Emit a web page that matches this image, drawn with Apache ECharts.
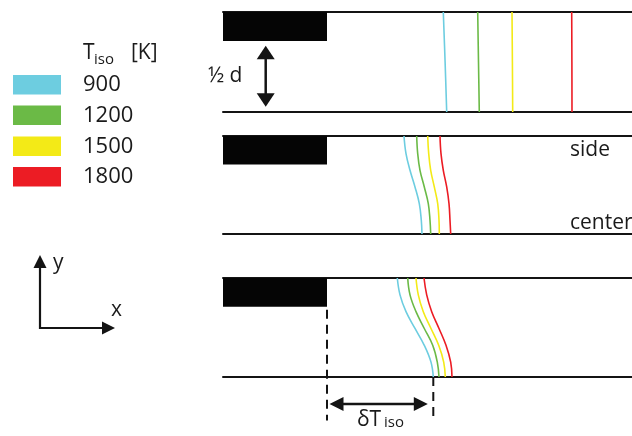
<!DOCTYPE html>
<html>
<head>
<meta charset="utf-8">
<script src="https://cdn.jsdelivr.net/npm/echarts@6/dist/echarts.min.js"></script>
<style>
  html, body { margin: 0; padding: 0; background: #fff; }
  #c { width: 632px; height: 436px; }
</style>
</head>
<body>
<div id="c"></div>
<script>
// Isotherm temperatures [K] and their colours
const temps = ['900', '1200', '1500', '1800'];
const tempColors = ['#6dcde0', '#6bba46', '#f3ea17', '#ec1c24'];

// Plate block: x from its left end to its edge (x = 0), y from 0.71 up to the side (1)
const plateX = [-104, 0];
const plateY = [0.71, 1];

// Axial window (same units as the isotherm positions)
const xRange = [-104, 305];

// Normalised transverse position: 1 = side, 0 = center
const levelsA = [1, 0.5, 0];
const levelsB = [1, 0.82, 0.65, 0.48, 0.31, 0.14, 0];
const levelsC = [1, 0.83, 0.66, 0.49, 0.32, 0.15, 0];

// Panel 1 – nearly straight isotherms
const isoA900  = [116.3, 118.1, 119.7];
const isoA1200 = [150.7, 151.5, 152.3];
const isoA1500 = [185.0, 185.4, 185.7];
const isoA1800 = [244.7, 244.9, 245.0];

// Panel 2 – curved isotherms
const isoB900  = [77.0, 79.0, 83.0, 88.0, 92.3, 94.3, 95.0];
const isoB1200 = [89.7, 90.7, 93.0, 97.3, 101.3, 103.0, 103.7];
const isoB1500 = [100.7, 101.7, 103.7, 107.3, 110.7, 112.0, 112.3];
const isoB1800 = [113.0, 114.0, 116.3, 119.7, 122.0, 123.0, 123.7];

// Panel 3 – strongly curved isotherms
const isoC900  = [70.3, 73.0, 79.0, 88.0, 97.3, 104.0, 106.3];
const isoC1200 = [80.7, 83.0, 89.0, 97.3, 105.7, 110.3, 112.0];
const isoC1500 = [89.0, 91.3, 96.3, 104.0, 111.7, 116.7, 118.3];
const isoC1800 = [97.0, 99.7, 104.7, 112.0, 119.0, 123.7, 125.0];

const panels = [
  { top: 12,  height: 100, levels: levelsA, iso: [isoA900, isoA1200, isoA1500, isoA1800] },
  { top: 136, height: 98,  levels: levelsB, iso: [isoB900, isoB1200, isoB1500, isoB1800] },
  { top: 278, height: 99,  levels: levelsC, iso: [isoC900, isoC1200, isoC1500, isoC1800] }
];

const INK = '#141414';
const FONT = '"Open Sans", "Liberation Sans", sans-serif';

const grid = [], xAxis = [], yAxis = [], series = [];

panels.forEach((p, i) => {
  grid.push({ left: 223, right: 0, top: p.top, height: p.height });
  const base = {
    gridIndex: i, type: 'value', min: xRange[0], max: xRange[1],
    axisLine: { show: true, onZero: false, lineStyle: { color: INK, width: 2 } },
    axisTick: { show: false }, axisLabel: { show: false }, splitLine: { show: false }
  };
  xAxis.push(Object.assign({}, base, { position: 'bottom' }));
  xAxis.push(Object.assign({}, base, { position: 'top' }));
  yAxis.push({ gridIndex: i, type: 'value', min: 0, max: 1, show: false });

  // plate block
  series.push({
    type: 'custom', xAxisIndex: 2 * i, yAxisIndex: i, silent: true,
    data: [[plateX[0], plateX[1], plateY[0], plateY[1]]],
    renderItem: (params, api) => {
      const a = api.coord([api.value(0), api.value(3)]);
      const b = api.coord([api.value(1), api.value(2)]);
      return { type: 'rect', shape: { x: a[0], y: a[1], width: b[0] - a[0], height: b[1] - a[1] },
               style: { fill: '#050505' } };
    }
  });

  // isotherms
  p.iso.forEach((xs, k) => {
    series.push({
      type: 'line', name: temps[k], xAxisIndex: 2 * i, yAxisIndex: i,
      data: xs.map((x, j) => [x, p.levels[j]]),
      smooth: 0.4, symbol: 'none', silent: true, z: 3,
      lineStyle: { color: tempColors[k], width: 1.6 }
    });
  });
});

// dashed guides below the last panel: plate edge and the 900 K front at the center
const frontX = isoC900[isoC900.length - 1];
const guideTop = 0.68, guideBottom = -0.44;
[[plateX[1], guideTop], [frontX, 0]].forEach(([gx, gy]) => {
  series.push({
    type: 'line', xAxisIndex: 4, yAxisIndex: 2, clip: false, symbol: 'none', silent: true,
    data: [[gx, gy], [gx, guideBottom]],
    lineStyle: { color: INK, width: 2, type: [9, 6] }
  });
});

const chart = echarts.init(document.getElementById('c'));
chart.setOption({ animation: false, backgroundColor: '#fff', grid, xAxis, yAxis, series });

// ---- annotations ----
function head(tip, dx, dy, len, half) {
  const bx = tip[0] - dx * len, by = tip[1] - dy * len;
  return {
    type: 'polygon', silent: true, z: 10,
    shape: { points: [tip, [bx - dy * half, by + dx * half], [bx + dy * half, by - dx * half]] },
    style: { fill: INK }
  };
}
function doubleArrow(a, b, len, half, w) {
  const L = Math.hypot(b[0] - a[0], b[1] - a[1]);
  const dx = (b[0] - a[0]) / L, dy = (b[1] - a[1]) / L;
  return [
    { type: 'line', silent: true, z: 10,
      shape: { x1: a[0] + dx * len * 0.5, y1: a[1] + dy * len * 0.5, x2: b[0] - dx * len * 0.5, y2: b[1] - dy * len * 0.5 },
      style: { stroke: INK, lineWidth: w } },
    head(b, dx, dy, len, half),
    head(a, -dx, -dy, len, half)
  ];
}
function txt(text, x, y, size, extra) {
  return Object.assign({ type: 'text', silent: true, z: 10,
    style: { text, x, y, font: size + 'px ' + FONT, fill: '#1a1a1a', verticalAlign: 'middle', align: 'left' } }, extra || {});
}

const px = (g, v) => chart.convertToPixel({ xAxisIndex: 2 * g, yAxisIndex: g }, v);

const graphic = [];

// half-width arrow in panel 1
const hx = -61.3;
graphic.push(...doubleArrow(px(0, [hx, plateY[0] - 0.047]), px(0, [hx, 0.053]), 13.5, 9, 2.5));
graphic.push(txt('\u00bd d', 208, 76, 21));

// delta T arrow under panel 3
const dTy = -0.273;
const pa = px(2, [plateX[1], dTy]), pb = px(2, [frontX, dTy]);
graphic.push(...doubleArrow([pa[0] + 2.5, pa[1]], [pb[0] - 5.5, pb[1]], 14, 7, 2.5));
graphic.push(txt('\u03b4T', 357, 420, 21));
graphic.push(txt('iso', 384, 423, 15));

// side / center labels
graphic.push(txt('side', 570, 150, 21));
graphic.push(txt('center', 570, 223, 21));

// legend
graphic.push(txt('T', 83, 53, 21));
graphic.push(txt('iso', 94, 60, 15));
graphic.push(txt('[K]', 131, 53, 21));
const swTop = [75, 105.5, 136.5, 167];
temps.forEach((t, k) => {
  graphic.push({ type: 'rect', silent: true, shape: { x: 13, y: swTop[k], width: 48, height: 19.5 },
                 style: { fill: tempColors[k] } });
  graphic.push(txt(t, 83, swTop[k] + 10, 22));
});

// coordinate system indicator
const o = [40, 328];
graphic.push({ type: 'polyline', silent: true, shape: { points: [[40, 266], o, [104, 328]] },
               style: { stroke: INK, lineWidth: 2.2, fill: null } });
graphic.push(head([40, 255], 0, -1, 13, 6.5));
graphic.push(head([115, 328], 1, 0, 13, 6.5));
graphic.push(txt('y', 53, 263, 21));
graphic.push(txt('x', 111, 310, 21));

chart.setOption({ graphic });
</script>
</body>
</html>
